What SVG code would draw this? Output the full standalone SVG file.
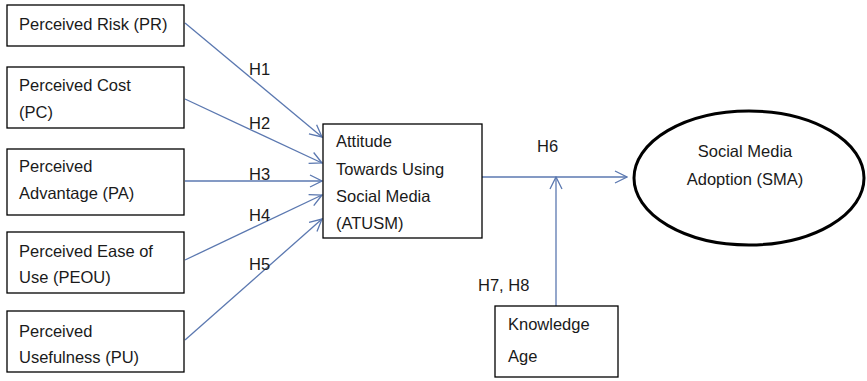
<svg xmlns="http://www.w3.org/2000/svg" width="867" height="381" viewBox="0 0 867 381">
<style>
.box{fill:#fff;stroke:#000;stroke-width:1.3}
.t{font-family:"Liberation Sans",Arial,sans-serif;font-size:16.5px;fill:#1a1a1a}
.c{stroke:#5b78b0;stroke-width:1.3;fill:none}
</style>
<defs>
<marker id="ah" viewBox="0 0 14 14" refX="13" refY="7" markerWidth="14" markerHeight="14" markerUnits="userSpaceOnUse" orient="auto">
<path d="M1,1 L13,7 L1,13" fill="none" stroke="#5b78b0" stroke-width="1.3"/>
</marker>
</defs>
<rect width="867" height="381" fill="#fff"/>
<g id="connectors">
<line class="c" x1="185" y1="23" x2="322" y2="137" marker-end="url(#ah)"/>
<line class="c" x1="185" y1="99" x2="322" y2="163" marker-end="url(#ah)"/>
<line class="c" x1="185" y1="181" x2="322" y2="181" marker-end="url(#ah)"/>
<line class="c" x1="185" y1="260" x2="322" y2="195" marker-end="url(#ah)"/>
<line class="c" x1="185" y1="340" x2="322" y2="219" marker-end="url(#ah)"/>
<line class="c" x1="482" y1="177" x2="627" y2="177" marker-end="url(#ah)"/>
<line class="c" x1="556" y1="306" x2="556" y2="177" marker-end="url(#ah)"/>
<text class="t" x="249" y="75">H1</text>
<text class="t" x="249" y="129">H2</text>
<text class="t" x="249" y="180">H3</text>
<text class="t" x="249" y="221">H4</text>
<text class="t" x="249" y="270">H5</text>
<text class="t" x="537" y="152">H6</text>
<text class="t" x="478" y="291">H7, H8</text>
</g>
<g id="PR"><rect class="box" x="7" y="5" width="177" height="41"/><text class="t" x="19" y="30">Perceived Risk (PR)</text></g>
<g id="PC"><rect class="box" x="7" y="67" width="177" height="61"/><text class="t" x="19" y="91">Perceived Cost</text><text class="t" x="19" y="118">(PC)</text></g>
<g id="PA"><rect class="box" x="7" y="149" width="177" height="66"/><text class="t" x="19" y="172">Perceived</text><text class="t" x="19" y="199">Advantage (PA)</text></g>
<g id="PEOU"><rect class="box" x="7" y="232" width="177" height="61"/><text class="t" x="19" y="257">Perceived Ease of</text><text class="t" x="19" y="283">Use (PEOU)</text></g>
<g id="PU"><rect class="box" x="7" y="311" width="177" height="61"/><text class="t" x="19" y="337">Perceived</text><text class="t" x="19" y="363">Usefulness (PU)</text></g>
<g id="ATUSM"><rect class="box" x="323" y="124" width="159" height="114"/><text class="t" x="336" y="147">Attitude</text><text class="t" x="336" y="175">Towards Using</text><text class="t" x="336" y="202">Social Media</text><text class="t" x="336" y="229">(ATUSM)</text></g>
<g id="SMA"><ellipse cx="749" cy="178" rx="115" ry="67" fill="#fff" stroke="#000" stroke-width="3"/><text class="t" x="745" y="157" text-anchor="middle">Social Media</text><text class="t" x="745" y="185" text-anchor="middle">Adoption (SMA)</text></g>
<g id="KA"><rect class="box" x="495" y="306" width="123" height="71"/><text class="t" x="508" y="330">Knowledge</text><text class="t" x="508" y="362">Age</text></g>
</svg>
